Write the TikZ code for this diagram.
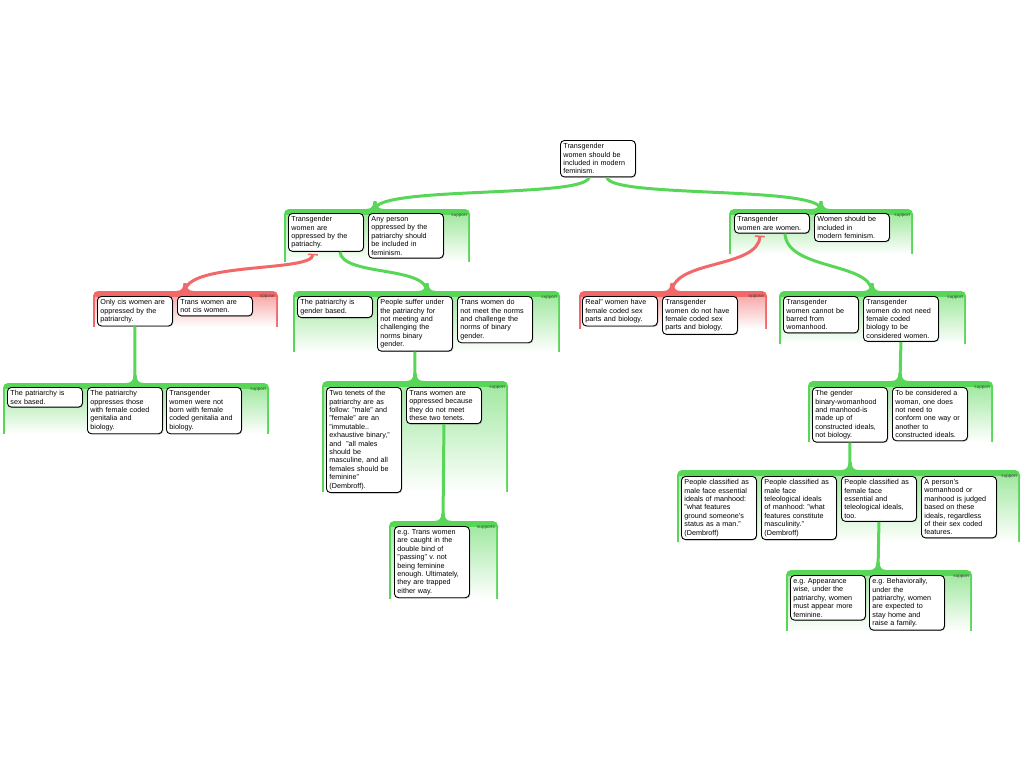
\documentclass[tikz,border=0pt]{standalone}
\usepackage{fontspec}
\setmainfont{Liberation Sans}
\usetikzlibrary{arrows.meta,shadows}
\definecolor{supgreen}{RGB}{88,214,88}
\definecolor{oppred}{RGB}{242,104,104}
\newcommand{\claimfont}{\fontsize{7.2}{8.4}\selectfont\frenchspacing}
% group background: x1, y1, x2, y2, colour
\newcommand{\grpbg}[5]{%
  \fill[#5,rounded corners=5pt] (#1,#2) rectangle (#3,#2+14);
  \fill[#5] (#1,#2+7) rectangle (#3,#4);
  \shade[top color=#5!55,bottom color=white] (#1+2,#2+6) rectangle (#3-2,#4);}

\begin{document}
\begin{tikzpicture}[x=1pt,y=-1pt,
  claim/.style={draw=black,line width=0.9pt,rounded corners=4pt,fill=white,
    text width=69pt,inner sep=3pt,align=left,anchor=north west,font=\claimfont,
    drop shadow={shadow xshift=0.8pt,shadow yshift=-0.8pt,fill=black!45}},
  tag/.style={anchor=north east,inner sep=0pt,font=\fontsize{4.6}{5}\selectfont,text=black!75},
  pro/.style={draw=supgreen,line width=3pt},
  con/.style={draw=oppred,line width=3pt,{Bar[width=10pt,line width=1.5pt]}-},
  flare/.pic={\fill (-9,0) .. controls (-3,0) and (-1.6,-3) .. (-1.6,-8)
    -- (1.6,-8) .. controls (1.6,-3) and (3,0) .. (9,0) -- cycle;}]
	\useasboundingbox (0,0) rectangle (1024,768);

	% Group backgrounds
	\grpbg{284}{209}{470}{262}{supgreen}
	\grpbg{729}{209}{913}{254}{supgreen}
	\grpbg{93}{291}{278}{327}{oppred}
	\grpbg{293}{291}{560}{352}{supgreen}
	\grpbg{579}{291}{767}{329}{oppred}
	\grpbg{779}{291}{966}{344}{supgreen}
	\grpbg{3}{383}{269}{434}{supgreen}
	\grpbg{322}{381}{508}{492}{supgreen}
	\grpbg{389}{521}{498}{599}{supgreen}
	\grpbg{808}{381}{993}{442}{supgreen}
	\grpbg{677}{470}{1020}{542}{supgreen}
	\grpbg{786}{570}{972}{631}{supgreen}

	% Group tops
	\coordinate (g1) at (375,209);
	\coordinate (g2) at (821,209);
	\coordinate (g3) at (185,291);
	\coordinate (g4) at (427,291);
	\coordinate (g5) at (672,291);
	\coordinate (g6) at (872,291);
	\coordinate (g7) at (135,383);
	\coordinate (g8) at (415,381);
	\coordinate (g9) at (443,521);
	\coordinate (g10) at (900,381);
	\coordinate (g11) at (850,470);
	\coordinate (g12) at (878,570);

	% Group tags
	\node[tag] (t1) at (467,213) {support};
	\node[tag] (t2) at (910,213) {support};
	\node[tag] (t3) at (275,295) {oppose};
	\node[tag] (t4) at (557,295) {support};
	\node[tag] (t5) at (764,295) {oppose};
	\node[tag] (t6) at (963,295) {support};
	\node[tag] (t7) at (266,387) {support};
	\node[tag] (t8) at (505,385) {support};
	\node[tag] (t9) at (495,525) {supports};
	\node[tag] (t10) at (990,385) {support};
	\node[tag] (t11) at (1017,474) {support};
	\node[tag] (t12) at (969,574) {support};

	% Root claim
	\node[claim] (root) at (560,140) {Transgender\\women should be\\included in modern\\feminism.};

	% Level 1
	\node[claim] (b1a) at (288,213) {Transgender\\women are\\oppressed by the\\patriachy.};
	\node[claim] (b1b) at (368,213) {Any person\\oppressed by the\\patriarchy should\\be included in\\feminism.};
	\node[claim] (b2a) at (734,213) {Transgender\\women are women.};
	\node[claim] (b2b) at (814,213) {Women should be\\included in\\modern feminism.};

	% Level 2
	\node[claim] (o1a) at (97,296) {Only cis women are\\oppressed by the\\patriarchy.};
	\node[claim] (o1b) at (177,296) {Trans women are\\not cis women.};
	\node[claim] (s1a) at (297,296) {The patriarchy is\\gender based.};
	\node[claim] (s1b) at (377,296) {People suffer under\\the patriarchy for\\not meeting and\\challenging the\\norms binary\\gender.};
	\node[claim] (s1c) at (457,296) {Trans women do\\not meet the norms\\and challenge the\\norms of binary\\gender.};
	\node[claim] (o2a) at (582,296) {Real'' women have\\female coded sex\\parts and biology.};
	\node[claim] (o2b) at (662,296) {Transgender\\women do not have\\female coded sex\\parts and biology.};
	\node[claim] (s2a) at (783,296) {Transgender\\women cannot be\\barred from\\womanhood.};
	\node[claim] (s2b) at (863,296) {Transgender\\women do not need\\female coded\\biology to be\\considered women.};

	% Level 3
	\node[claim] (l3a) at (7,387) {The patriarchy is\\sex based.};
	\node[claim] (l3b) at (87,387) {The patriarchy\\oppresses those\\with female coded\\genitalia and\\biology.};
	\node[claim] (l3c) at (166,387) {Transgender\\women were not\\born with female\\coded genitalia and\\biology.};
	\node[claim] (m3a) at (326,387) {Two tenets of the\\patriarchy are as\\follow: "male" and\\"female" are an\\"immutable..\\exhaustive binary,"\\and \ "all males\\should be\\masculine, and all\\females should be\\feminine"\\(Dembroff).};
	\node[claim] (m3b) at (406,387) {Trans women are\\oppressed because\\they do not meet\\these two tenets.};
	\node[claim] (r3a) at (812,387) {The gender\\binary-womanhood\\and manhood-is\\made up of\\constructed ideals,\\not biology.};
	\node[claim] (r3b) at (892,387) {To be considered a\\woman, one does\\not need to\\conform one way or\\another to\\constructed ideals.};

	% Level 4
	\node[claim] (m4) at (394,526) {e.g. Trans women\\are caught in the\\double bind of\\"passing" v. not\\being feminine\\enough. Ultimately,\\they are trapped\\either way.};
	\node[claim] (r4a) at (681,476) {People classified as\\male face essential\\ideals of manhood:\\"what features\\ground someone's\\status as a man."\\(Dembroff)};
	\node[claim] (r4b) at (761,476) {People classified as\\male face\\teleological ideals\\of manhood: "what\\features constitute\\masculinity."\\(Dembroff)};
	\node[claim] (r4c) at (841,476) {People classified as\\female face\\essential and\\teleological ideals,\\too.};
	\node[claim] (r4d) at (921,476) {A person's\\womanhood or\\manhood is judged\\based on these\\ideals, regardless\\of their sex coded\\features.};

	% Level 5
	\node[claim] (r5a) at (790,575) {e.g. Appearance\\wise, under the\\patriarchy, women\\must appear more\\feminine.};
	\node[claim] (r5b) at (869,575) {e.g. Behaviorally,\\under the\\patriarchy, women\\are expected to\\stay home and\\raise a family.};

	% Links
	\draw[pro] ([xshift=-9pt]root.south) .. controls (586,198) and (378,186) .. (g1);
	\draw[pro] ([xshift=9pt]root.south) .. controls (610,198) and (818,186) .. (g2);
	\draw[con] ([xshift=-13pt,yshift=-2pt]b1a.south) .. controls (312,272) and (188,262) .. (g3);
	\draw[pro] ([xshift=14pt]b1a.south) .. controls (342,276) and (425,266) .. (g4);
	\draw[con] ([xshift=-12pt,yshift=-2pt]b2a.south) .. controls (758,268) and (675,260) .. (g5);
	\draw[pro] ([xshift=13pt]b2a.south) .. controls (787,270) and (869,262) .. (g6);
	\draw[pro] (o1a.south) -- (g7);
	\draw[pro] (s1b.south) -- (g8);
	\draw[pro] (m3b.south) -- (g9);
	\draw[pro] (s2b.south) -- (g10);
	\draw[pro] (r3a.south) -- (g11);
	\draw[pro] (r4c.south) -- (g12);

	% Flares
	\foreach \g in {g1,g2,g4,g6,g7,g8,g9,g10,g11,g12}
		\pic[supgreen] at (\g) {flare};
	\foreach \g in {g3,g5}
		\pic[oppred] at (\g) {flare};
\end{tikzpicture}
\end{document}
